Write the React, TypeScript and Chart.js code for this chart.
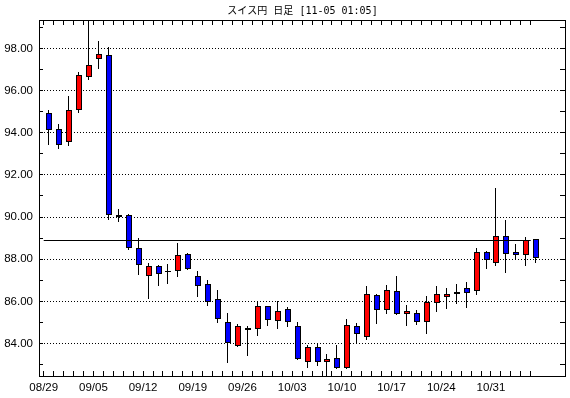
import { useEffect, useRef } from 'react';
import { Chart, registerables } from 'chart.js';

Chart.register(...registerables);

const titleText = 'スイス円 日足 [11-05 01:05]';

const dates = [
  '08/29', '08/30', '08/31', '09/01', '09/02',
  '09/05', '09/06', '09/07', '09/08', '09/09',
  '09/12', '09/13', '09/14', '09/15', '09/16',
  '09/19', '09/20', '09/21', '09/22', '09/23',
  '09/26', '09/27', '09/28', '09/29', '09/30',
  '10/03', '10/04', '10/05', '10/06', '10/07',
  '10/10', '10/11', '10/12', '10/13', '10/14',
  '10/17', '10/18', '10/19', '10/20', '10/21',
  '10/24', '10/25', '10/26', '10/27', '10/28',
  '10/31', '11/01', '11/02', '11/03', '11/04',
];

const tickLabels = ['08/29', '09/05', '09/12', '09/19', '09/26', '10/03', '10/10', '10/17', '10/24', '10/31'];

const opens = [
  94.96, 94.16, 93.54, 95.10, 96.67, 97.48, 97.68, 90.09, 90.09, 88.51,
  87.21, 87.70, 87.46, 87.46, 88.24, 87.18, 86.81, 86.10, 85.00, 83.86,
  84.74, 84.67, 85.76, 85.09, 85.66, 84.81, 83.13, 83.84, 83.13, 83.33,
  82.84, 84.81, 84.33, 86.32, 85.61, 86.51, 85.42, 85.47, 85.04, 85.94,
  86.22, 86.35, 86.65, 86.47, 88.32, 87.80, 89.08, 88.34, 88.22, 88.95,
];
const highs = [
  95.07, 94.41, 95.74, 96.88, 99.60, 98.36, 98.05, 90.36, 90.15, 89.00,
  87.80, 87.74, 87.76, 88.77, 88.28, 87.43, 87.00, 86.53, 85.47, 84.92,
  84.82, 86.03, 85.80, 86.04, 85.71, 85.04, 83.93, 83.98, 83.50, 83.91,
  85.16, 84.98, 86.75, 86.35, 86.77, 87.19, 85.85, 85.61, 86.25, 86.72,
  86.65, 86.81, 86.92, 88.51, 88.38, 91.37, 89.88, 88.70, 89.04, 88.98,
];
const lows = [
  93.44, 93.21, 93.38, 94.94, 96.51, 97.03, 89.88, 89.77, 88.46, 87.25,
  86.10, 86.73, 86.83, 87.16, 87.48, 86.21, 85.78, 84.96, 83.08, 83.84,
  83.40, 84.37, 84.83, 84.71, 84.76, 83.22, 82.84, 82.94, 82.30, 82.79,
  82.79, 84.00, 84.17, 84.93, 85.38, 85.33, 84.85, 84.90, 84.47, 85.50,
  85.66, 85.88, 85.69, 86.31, 87.54, 87.68, 87.35, 87.99, 87.68, 87.80,
];
const closes = [
  94.11, 93.44, 95.06, 96.72, 97.24, 97.73, 90.12, 89.99, 88.54, 87.73,
  87.70, 87.30, 87.38, 88.19, 87.54, 86.73, 85.99, 85.17, 84.03, 84.81,
  84.66, 85.76, 85.10, 85.52, 85.04, 83.27, 83.84, 83.13, 83.26, 82.84,
  84.90, 84.43, 86.37, 85.61, 86.56, 85.38, 85.54, 85.04, 85.97, 86.37,
  86.35, 86.43, 86.40, 88.32, 87.95, 89.12, 88.25, 88.21, 88.89, 88.08,
];

const refLine = 88.89;
const yLabelValues = [84, 86, 88, 90, 92, 94, 96, 98];
const yMinorValues = [83, 84, 85, 86, 87, 88, 89, 90, 91, 92, 93, 94, 95, 96, 97, 98, 99];

const X_MIN = -0.976;
const X_MAX = 52.049;
const Y_MIN = 82.41;
const Y_MAX = 99.3525;

const UP = '#ff0000';
const DOWN = '#0000ff';
const AXIS_FONT = { family: "'Liberation Sans', Arial, sans-serif", size: 11.5 };
const TITLE_FONT = "'DejaVu Sans Mono', 'Noto Sans CJK JP', monospace";

const xTickValues = dates.map((_, i) => i - 0.5);

const candlePlugin = {
  id: 'candleFrame',
  beforeDatasetsDraw(chart: any) {
    const { ctx, chartArea: a, scales } = chart;
    const x = scales.x;
    const y = scales.y;
    chart.data.datasets.forEach((ds: any, di: number) => {
      const meta = chart.getDatasetMeta(di);
      meta.data.forEach((el: any, i: number) => {
        if (ds.label === 'line') {
          el.y = Math.floor(y.getPixelForValue(refLine)) + 0.5;
          return;
        }
        const n = Math.floor(x.getPixelForValue(i));
        if (ds.label === 'wick') {
          el.x = n + 0.5;
          el.width = 1;
        } else {
          el.x = n + 1;
          el.width = 6;
        }
        el.y = Math.round(el.y);
        el.base = Math.round(el.base);
      });
    });
    ctx.save();
    ctx.strokeStyle = '#000';
    ctx.lineWidth = 1;
    ctx.setLineDash([1, 2]);
    ctx.beginPath();
    for (const v of yLabelValues) {
      const py = Math.floor(y.getPixelForValue(v)) + 0.5;
      ctx.moveTo(a.left + 5, py);
      ctx.lineTo(a.right - 8, py);
    }
    ctx.stroke();
    ctx.restore();
  },
  afterDatasetsDraw(chart: any) {
    const { ctx, chartArea: a, scales } = chart;
    const x = scales.x;
    const y = scales.y;
    ctx.save();
    ctx.strokeStyle = '#000';
    ctx.lineWidth = 1;
    ctx.setLineDash([]);
    ctx.strokeRect(a.left + 0.5, a.top + 0.5, a.right - a.left - 1, a.bottom - a.top - 1);
    ctx.beginPath();
    for (const t of xTickValues) {
      const px = Math.floor(x.getPixelForValue(t)) + 0.5;
      ctx.moveTo(px, a.bottom - 1);
      ctx.lineTo(px, a.bottom - 6);
      ctx.moveTo(px, a.top + 1);
      ctx.lineTo(px, a.top + 5);
    }
    for (const v of yMinorValues) {
      const py = Math.floor(y.getPixelForValue(v)) + 0.5;
      ctx.moveTo(a.left + 1, py);
      ctx.lineTo(a.left + 4, py);
      ctx.moveTo(a.right - 1, py);
      ctx.lineTo(a.right - 6, py);
    }
    ctx.stroke();
    ctx.restore();
  },
};

export default function App() {
  const ref = useRef<HTMLCanvasElement>(null);

  useEffect(() => {
    document.body.style.margin = '0';
    document.body.style.background = '#fff';
    const canvas = ref.current;
    if (!canvas) return;
    const chart = new Chart(canvas, {
      type: 'bar',
      data: {
        datasets: [
          {
            type: 'line',
            label: 'line',
            data: [
              { x: -0.5, y: refLine },
              { x: dates.length - 1.5, y: refLine },
            ],
            borderColor: '#000',
            borderWidth: 1,
            pointRadius: 0,
            order: 0,
          },
          {
            type: 'bar',
            label: 'body',
            data: dates.map((_, i) => ({ x: i, y: [opens[i], closes[i]] })),
            backgroundColor: dates.map((_, i) => (closes[i] >= opens[i] ? UP : DOWN)),
            borderColor: '#000',
            borderWidth: 1,
            borderSkipped: false,
            maxBarThickness: 6,
            grouped: false,
            order: 1,
          },
          {
            type: 'bar',
            label: 'wick',
            data: dates.map((_, i) => ({ x: i, y: [lows[i], highs[i]] })),
            backgroundColor: '#000',
            borderWidth: 0,
            maxBarThickness: 1,
            grouped: false,
            order: 2,
          },
        ] as any,
      },
      options: {
        responsive: false,
        animation: false,
        devicePixelRatio: 1,
        layout: { padding: { left: 0, right: 4, top: 0, bottom: 0 } },
        plugins: {
          legend: { display: false },
          tooltip: { enabled: false },
          title: {
            display: true,
            text: titleText,
            fullSize: false,
            color: '#000',
            font: { family: TITLE_FONT, size: 10, weight: 'normal', lineHeight: '17px' } as any,
            padding: { top: 3, bottom: 0 },
          },
        },
        scales: {
          x: {
            type: 'linear',
            offset: false,
            min: X_MIN,
            max: X_MAX,
            grid: { display: false, drawTicks: false, tickLength: 0 },
            border: { display: false },
            afterBuildTicks: (s: any) => {
              s.ticks = xTickValues.map((v) => ({ value: v }));
            },
            afterFit: (s: any) => {
              s.height = 21;
            },
            ticks: {
              autoSkip: false,
              maxRotation: 0,
              minRotation: 0,
              padding: 4,
              color: '#000',
              font: AXIS_FONT,
              callback: (_v: any, i: number) => (tickLabels.includes(dates[i]) ? dates[i] : ''),
            },
          },
          y: {
            type: 'linear',
            min: Y_MIN,
            max: Y_MAX,
            grid: { display: false, drawTicks: false, tickLength: 0 },
            border: { display: false },
            afterBuildTicks: (s: any) => {
              s.ticks = yLabelValues.map((v) => ({ value: v }));
            },
            afterFit: (s: any) => {
              s.width = 39;
            },
            ticks: {
              padding: 6,
              color: '#000',
              font: AXIS_FONT,
              callback: (v: any) => Number(v).toFixed(2),
            },
          },
        },
      } as any,
      plugins: [candlePlugin],
    });
    return () => chart.destroy();
  }, []);

  return (
    <div style={{ width: 570, height: 398, background: '#fff' }}>
      <canvas ref={ref} width={570} height={398} style={{ display: 'block' }} />
    </div>
  );
}
